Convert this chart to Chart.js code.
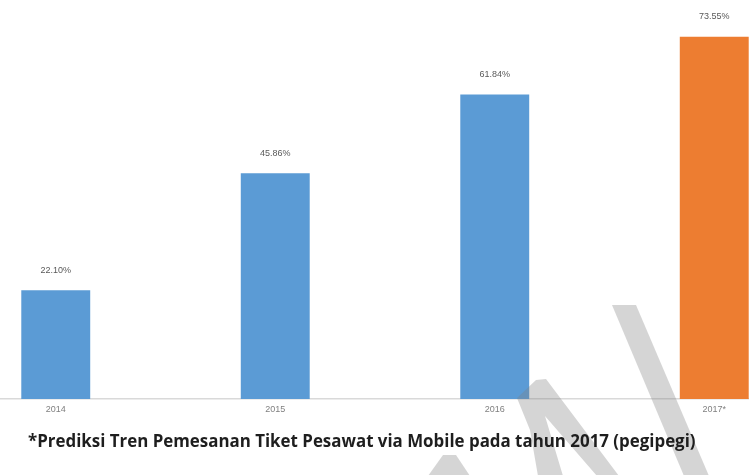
<!DOCTYPE html>
<html>
<head>
<meta charset="utf-8">
<script src="https://cdn.jsdelivr.net/npm/chart.js@4"></script>
<style>
  html, body { margin: 0; padding: 0; background: #fff; }
  #wrap { position: relative; width: 749px; height: 475px; overflow: hidden; }
  #box { position: absolute; left: -54px; top: 0; width: 878px; height: 475px; }
  #caption {
    position: absolute; left: 28px; top: 429px; line-height: 24px;
    font-family: "Open Sans", sans-serif; font-weight: 700; font-size: 16.9px;
    color: #1e1e1e; white-space: nowrap;
  }
</style>
</head>
<body>
<div id="wrap">
  <div id="box"><canvas id="chart" width="878" height="475"></canvas></div>
  <div id="caption">*Prediksi Tren Pemesanan Tiket Pesawat via Mobile pada tahun 2017 (pegipegi)</div>
</div>
<script>
// data
const years = ["2014", "2015", "2016", "2017*"]
const share = [22.10, 45.86, 61.84, 73.55]
const barColors = ["#5b9bd5", "#5b9bd5", "#5b9bd5", "#ed7d31"]

// grey strokes of the watermark, page coords (canvas is shifted by 54px)
const watermark = {
  id: "watermark",
  afterDatasetsDraw(chart) {
    const ctx = chart.ctx
    const dx = 54
    ctx.save()
    ctx.fillStyle = "rgba(128,128,128,0.33)"
    const shapes = [
      [[536, 380], [546, 379], [619, 476], [597, 476], [545, 416], [563, 476], [538, 476], [530, 430], [517, 398]],
      [[612, 305], [636, 305], [709, 476], [684, 476]],
      [[428, 476], [443, 455], [456, 455], [470, 476]]
    ]
    shapes.forEach(pts => {
      ctx.beginPath()
      pts.forEach((p, i) => i == 0 ? ctx.moveTo(p[0] + dx, p[1]) : ctx.lineTo(p[0] + dx, p[1]))
      ctx.closePath()
      ctx.fill()
    })
    ctx.restore()
  }
}

// value labels above each bar
const valueLabels = {
  id: "valueLabels",
  afterDatasetsDraw(chart) {
    const ctx = chart.ctx
    const meta = chart.getDatasetMeta(0)
    ctx.save()
    ctx.font = "9px 'Liberation Sans', sans-serif"
    ctx.fillStyle = "#595959"
    ctx.textAlign = "center"
    ctx.textBaseline = "middle"
    meta.data.forEach((bar, i) => {
      ctx.fillText(share[i].toFixed(2) + "%", bar.x, bar.y - 20)
    })
    ctx.restore()
  }
}

new Chart(document.getElementById("chart"), {
  type: "bar",
  data: {
    labels: years,
    datasets: [{
      data: share,
      backgroundColor: barColors,
      borderWidth: 0,
      barPercentage: 0.314,
      categoryPercentage: 1
    }]
  },
  options: {
    responsive: false,
    animation: false,
    layout: { padding: { top: 5, bottom: 56, left: 0, right: 0 } },
    plugins: { legend: { display: false }, tooltip: { enabled: false } },
    scales: {
      x: {
        grid: { display: false, drawTicks: false },
        border: { display: true, color: "#d9d9d9", width: 1.5 },
        ticks: { color: "#808080", font: { size: 9, family: "'Liberation Sans', sans-serif" }, padding: 5 },
        afterFit: s => { s.height = 20 }
      },
      y: { display: false, min: 0, max: 80 }
    }
  },
  plugins: [watermark, valueLabels]
})
</script>
</body>
</html>
